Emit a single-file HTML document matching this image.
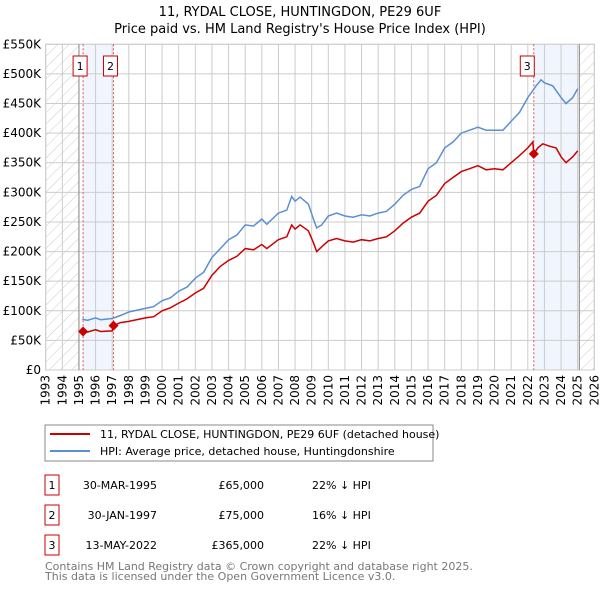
<!DOCTYPE html>
<html><head><meta charset="utf-8"><style>
body{margin:0;background:#fff;font-family:"Liberation Sans","DejaVu Sans",sans-serif;}
svg text{font-family:"DejaVu Sans","Liberation Sans",sans-serif;}
</style></head><body>
<svg id="c" width="600" height="590" xmlns="http://www.w3.org/2000/svg">
<defs><pattern id="hatch" width="8" height="8" patternUnits="userSpaceOnUse" patternTransform="rotate(45)"><line x1="0" y1="0" x2="0" y2="8" stroke="#ccc" stroke-width="1"/></pattern></defs>
<text x="300" y="16" text-anchor="middle" font-size="13">11, RYDAL CLOSE, HUNTINGDON, PE29 6UF</text>
<text x="300" y="33" text-anchor="middle" font-size="13">Price paid vs. HM Land Registry's House Price Index (HPI)</text>
<g id="grid"></g><g id="marks"></g>
<rect x="45" y="425" width="388" height="36" fill="#fff" stroke="#888"/>
<line x1="50" y1="434" x2="90" y2="434" stroke="#cc0000" stroke-width="2"/>
<text x="100" y="438" font-size="11">11, RYDAL CLOSE, HUNTINGDON, PE29 6UF (detached house)</text>
<line x1="50" y1="451" x2="90" y2="451" stroke="#5b8fd4" stroke-width="2"/>
<text x="100" y="455" font-size="11">HPI: Average price, detached house, Huntingdonshire</text>
<g id="table" font-size="11"></g>
<text x="45" y="570" font-size="11" fill="#777">Contains HM Land Registry data © Crown copyright and database right 2025.</text>
<text x="45" y="580" font-size="11" fill="#777">This data is licensed under the Open Government Licence v3.0.</text>
</svg>
<script>
const hpiYears=[1995.2,1995.5,1996,1996.3,1997,1997.5,1998,1999,1999.5,2000,2000.5,2001,2001.5,2002,2002.5,2003,2003.5,2004,2004.5,2005,2005.5,2006,2006.3,2007,2007.5,2007.8,2008,2008.3,2008.8,2009.1,2009.3,2009.6,2010,2010.5,2011,2011.5,2012,2012.5,2013,2013.5,2014,2014.5,2015,2015.5,2016,2016.5,2017,2017.5,2018,2018.5,2019,2019.5,2020,2020.5,2021,2021.5,2022,2022.5,2022.8,2023,2023.5,2024,2024.3,2024.7,2025];
const hpiValues=[86,84,88,85,87,92,98,104,107,117,122,133,140,155,165,190,205,220,228,245,243,255,246,265,270,293,285,292,280,255,240,245,260,265,260,258,262,260,265,268,280,295,305,310,340,350,375,385,400,405,410,405,405,405,420,435,460,480,490,485,480,460,450,460,475];
const priceYears=[1995.25,1995.5,1996,1996.3,1997,1997.08,1997.5,1998,1999,1999.5,2000,2000.5,2001,2001.5,2002,2002.5,2003,2003.5,2004,2004.5,2005,2005.5,2006,2006.3,2007,2007.5,2007.8,2008,2008.3,2008.8,2009.1,2009.3,2009.6,2010,2010.5,2011,2011.5,2012,2012.5,2013,2013.5,2014,2014.5,2015,2015.5,2016,2016.5,2017,2017.5,2018,2018.5,2019,2019.5,2020,2020.5,2021,2021.5,2022,2022.3,2022.36,2022.6,2022.9,2023.3,2023.7,2024,2024.3,2024.7,2025];
const priceValues=[65,64,68,65,66,75,80,82,88,90,100,105,113,120,130,138,160,175,185,192,205,203,212,205,220,225,245,238,245,235,215,200,208,218,222,218,216,220,218,222,225,235,248,258,265,285,295,315,325,335,340,345,338,340,338,350,362,375,385,365,375,382,378,375,360,350,360,370];
const saleYears=[1995.25,1997.08,2022.36];
const saleValues=[65,75,365];
const saleLabels=["1","2","3"];
const saleDates=["30-MAR-1995","30-JAN-1997","13-MAY-2022"];
const salePrices=["£65,000","£75,000","£365,000"];
const salePcts=["22% ↓ HPI","16% ↓ HPI","22% ↓ HPI"];
const yTicks=[0,50,100,150,200,250,300,350,400,450,500,550];
const yTickLabels=["£0","£50K","£100K","£150K","£200K","£250K","£300K","£350K","£400K","£450K","£500K","£550K"];

const X0=45.7,X1=594.3,Y0=370,Y1=44.3;
const xs=y=>X0+(y-1993)/33*(X1-X0);
const ys=v=>Y0-v/550*(Y0-Y1);
const NS="http://www.w3.org/2000/svg";
function mk(t,a,p){const e=document.createElementNS(NS,t);for(const k in a)e.setAttribute(k,a[k]);p.appendChild(e);return e;}
const g=document.getElementById('grid'),m=document.getElementById('marks'),tb=document.getElementById('table');
let r;
r=mk('rect',{x:X0,y:Y1,width:X1-X0,height:Y0-Y1,fill:'#fff',stroke:'#ccc'},g);


r=mk('rect',{x:X0,y:Y1,width:xs(1995)-X0,height:Y0-Y1,fill:'url(#hatch)'},g);


r=mk('rect',{x:xs(2025.1),y:Y1,width:X1-xs(2025.1),height:Y0-Y1,fill:'url(#hatch)'},g);


r=mk('rect',{x:xs(saleYears[0]),y:Y1,width:xs(saleYears[1])-xs(saleYears[0]),height:Y0-Y1,fill:'#eef3fc',opacity:0.8},g);


r=mk('rect',{x:xs(saleYears[2]),y:Y1,width:xs(2025.1)-xs(saleYears[2]),height:Y0-Y1,fill:'#eef3fc',opacity:0.8},g);


for(let yr=1993;yr<=2026;yr++){
 const x=xs(yr);
 r=mk('line',{x1:x,x2:x,y1:Y1,y2:Y0,stroke:'#ccc'},g);
 
 
 r=mk('text',{x:0,y:0,transform:`translate(${x+4},${Y0+5}) rotate(-90)`,'text-anchor':'end','font-size':12},g);
 r.textContent=yr;
 
 
}
yTicks.forEach((v,i)=>{
 const y=ys(v);
 r=mk('line',{x1:X0,x2:X1,y1:y,y2:y,stroke:'#ccc'},g);
 
 
 r=mk('text',{x:41,y:y+4,'text-anchor':'end','font-size':12},g);
 r.textContent=yTickLabels[i];
 
 
});
[1995,2025.1].forEach(yr=>{r=mk('line',{x1:xs(yr),x2:xs(yr),y1:Y1,y2:Y0,stroke:'#888'},g);
 
 });
const boxOff=[-10,-10,-13.5];
saleYears.forEach((yr,i)=>{
 r=mk('line',{x1:xs(yr),x2:xs(yr),y1:Y1,y2:Y0,stroke:'#e05050','stroke-dasharray':'2,2'},m);
 
 
 const bx=xs(yr)+boxOff[i];
 r=mk('rect',{x:bx,y:56,width:14,height:20,fill:'#fff',stroke:'#cc0000'},m);
 
 
 r=mk('text',{x:bx+7,y:70,'text-anchor':'middle','font-size':11},m);
 r.textContent=saleLabels[i];
 
 
});
const path=(X,V)=>X.map((x,i)=>(i?'L':'M')+xs(x).toFixed(1)+','+ys(V[i]).toFixed(1)).join('');
r=mk('path',{d:path(hpiYears,hpiValues),fill:'none',stroke:'#5b8fd4','stroke-width':1.5},m);


r=mk('path',{d:path(priceYears,priceValues),fill:'none',stroke:'#cc0000','stroke-width':1.5},m);


saleYears.forEach((yr,i)=>{
 const x=xs(yr),y=ys(saleValues[i]);
 r=mk('path',{d:`M${x},${y-5}L${x+5},${y}L${x},${y+5}L${x-5},${y}Z`,fill:'#cc0000'},m);
 
 
 const ty=485+i*30;
 r=mk('rect',{x:45,y:ty-10,width:14,height:20,fill:'#fff',stroke:'#cc0000'},tb);
 
 
 r=mk('text',{x:52,y:ty+4,'text-anchor':'middle'},tb);
 r.textContent=saleLabels[i];
 
 
 r=mk('text',{x:157,y:ty+4,'text-anchor':'end'},tb);
 r.textContent=saleDates[i];
 
 
 r=mk('text',{x:264,y:ty+4,'text-anchor':'end'},tb);
 r.textContent=salePrices[i];
 
 
 r=mk('text',{x:312,y:ty+4},tb);
 r.textContent=salePcts[i];
 
 
});
</script>
</body></html>
